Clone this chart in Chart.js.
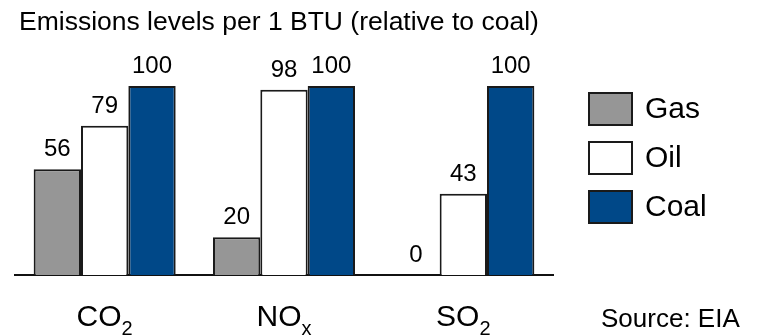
<!DOCTYPE html>
<html>
<head>
<meta charset="utf-8">
<script src="https://cdn.jsdelivr.net/npm/chart.js@4"></script>
<style>
  body { margin: 0; background: #fff; }
  #wrap { width: 758px; height: 335px; position: relative; }
</style>
</head>
<body>
<div id="wrap"><canvas id="emissions"></canvas></div>
<script>
// categories (base text + subscript) and values relative to coal
const categoryBase = ['CO', 'NO', 'SO'];
const categorySub = ['2', 'x', '2'];
const seriesNames = ['Gas', 'Oil', 'Coal'];
const gasValues = [56, 20, 0];
const oilValues = [79, 98, 43];
const coalValues = [100, 100, 100];

const FONT = '"Liberation Sans", Arial, Helvetica, sans-serif';

// value labels above each bar
const valueLabels = {
  id: 'valueLabels',
  afterDatasetsDraw(chart) {
    const ctx = chart.ctx;
    ctx.save();
    ctx.font = '24px ' + FONT;
    ctx.fillStyle = '#000';
    ctx.textAlign = 'center';
    ctx.textBaseline = 'alphabetic';
    chart.data.datasets.forEach((ds, di) => {
      chart.getDatasetMeta(di).data.forEach((bar, i) => {
        ctx.fillText(String(ds.data[i]), bar.x, bar.y - 13);
      });
    });
    ctx.restore();
  }
};

// title, category labels with subscripts, legend and source note
const decorations = {
  id: 'decorations',
  afterDraw(chart) {
    const ctx = chart.ctx;
    const xs = chart.scales.x;
    ctx.save();
    ctx.fillStyle = '#000';
    ctx.textBaseline = 'alphabetic';

    ctx.font = '26.5px ' + FONT;
    ctx.textAlign = 'left';
    ctx.fillText('Emissions levels per 1 BTU (relative to coal)', 19, 30);

    // category labels
    categoryBase.forEach((base, i) => {
      ctx.font = '30px ' + FONT;
      const wb = ctx.measureText(base).width;
      ctx.font = '20px ' + FONT;
      const ws = ctx.measureText(categorySub[i]).width;
      const cx = xs.getPixelForTick(i);
      const x0 = cx - (wb + ws) / 2;
      ctx.font = '30px ' + FONT;
      ctx.fillText(base, x0, 326);
      ctx.font = '20px ' + FONT;
      ctx.fillText(categorySub[i], x0 + wb, 335);
    });

    // legend
    chart.data.datasets.forEach((ds, i) => {
      const y = 92 + i * 49;
      ctx.fillStyle = ds.backgroundColor;
      ctx.fillRect(588, y, 45, 34);
      ctx.lineWidth = 2;
      ctx.strokeStyle = ds.borderColor;
      ctx.strokeRect(589, y + 1, 43, 32);
      ctx.fillStyle = '#000';
      ctx.font = '30px ' + FONT;
      ctx.textBaseline = 'middle';
      ctx.fillText(ds.label, 645, y + 18);
      ctx.textBaseline = 'alphabetic';
    });

    ctx.font = '26px ' + FONT;
    ctx.fillText('Source: EIA', 601, 327);
    ctx.restore();
  }
};

const emissionsChart = new Chart(document.getElementById('emissions').getContext('2d'), {
  type: 'bar',
  data: {
    labels: categoryBase.map((b, i) => b + categorySub[i]),
    datasets: [
      { label: seriesNames[0], data: gasValues, backgroundColor: '#969696' },
      { label: seriesNames[1], data: oilValues, backgroundColor: '#ffffff' },
      { label: seriesNames[2], data: coalValues, backgroundColor: '#004888' }
    ].map(ds => Object.assign(ds, { borderColor: '#1a1a1a', borderWidth: 2, borderSkipped: 'bottom' }))
  },
  options: {
    responsive: true,
    maintainAspectRatio: false,
    animation: false,
    layout: { padding: { left: 15, right: 205, top: 86, bottom: 60 } },
    categoryPercentage: 0.792,
    barPercentage: 1,
    scales: {
      x: {
        grid: { display: false, drawTicks: false },
        ticks: { display: false },
        border: { display: true, color: '#111', width: 2 },
        afterFit(scale) { scale.height = 0; }
      },
      y: {
        display: false,
        min: 0,
        max: 100
      }
    },
    plugins: {
      legend: { display: false },
      tooltip: { enabled: false }
    }
  },
  plugins: [valueLabels, decorations]
});
</script>
</body>
</html>
